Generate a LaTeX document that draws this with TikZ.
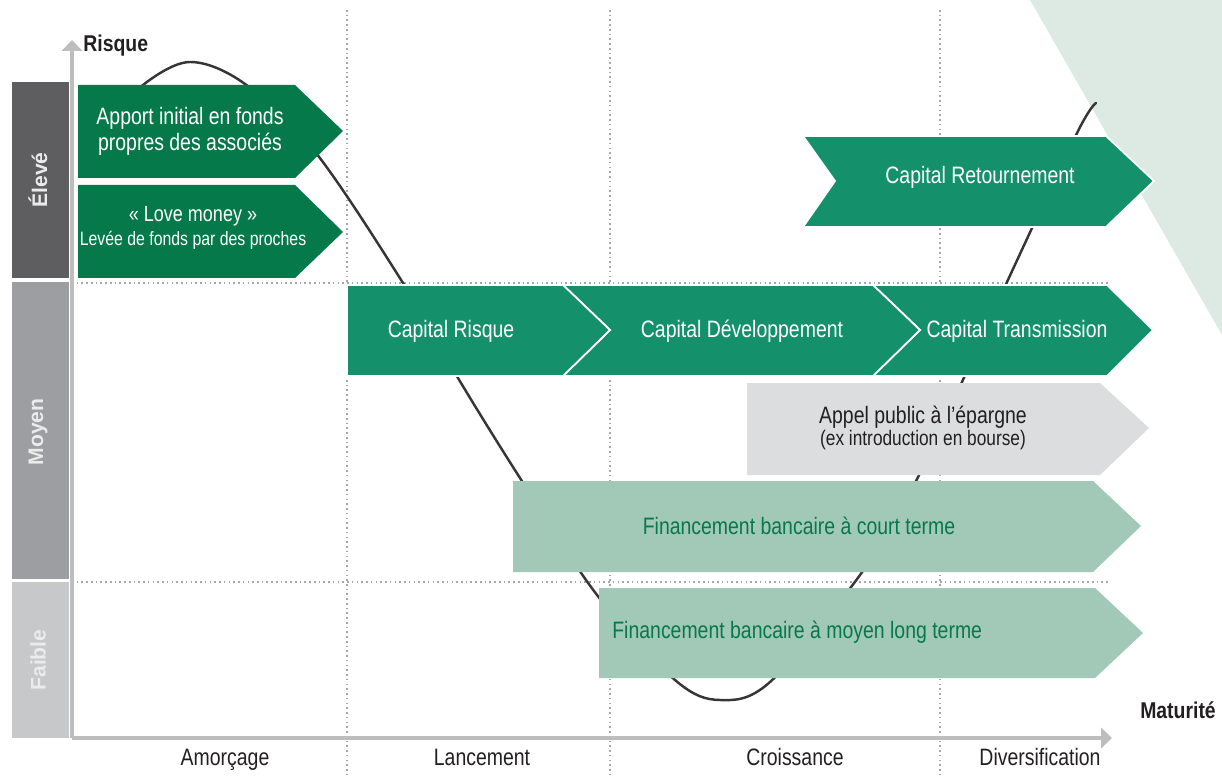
\documentclass[tikz,border=0pt]{standalone}
\usepackage{fontspec}
\setmainfont{Liberation Sans}[FakeStretch=0.82]
\newfontfamily\axisfont{Liberation Sans}[FakeStretch=0.85]
\newfontfamily\levelfont{Liberation Sans}
\usetikzlibrary{arrows.meta}

\definecolor{seedgreen}{HTML}{06794A}
\definecolor{capgreen}{HTML}{14916B}
\definecolor{bankgreen}{HTML}{A2C8B7}
\definecolor{publicgrey}{HTML}{DCDDDF}
\definecolor{wedgegreen}{HTML}{DCEAE3}
\definecolor{highgrey}{HTML}{5E5E60}
\definecolor{midgrey}{HTML}{9D9EA1}
\definecolor{lowgrey}{HTML}{C7C8CA}
\definecolor{axisgrey}{HTML}{BDBDBD}
\definecolor{inkgrey}{HTML}{231F20}

\tikzset{
  stage/.style={draw=white, line width=1pt},
  gridline/.style={gray!70, line width=1pt, dash pattern=on 0.9pt off 1.8pt},
  axisline/.style={axisgrey, line width=2pt, -{Triangle[length=6.2pt,width=11.5pt]}},
  wtext/.style={text=white, font=\fontsize{13.5}{14.8}\selectfont, align=center, inner sep=0pt},
  gtext/.style={text=seedgreen, font=\fontsize{13.5}{14.8}\selectfont, inner sep=0pt},
  level/.style={rotate=90, text=white!92!black, font=\levelfont\bfseries\fontsize{12}{12}\selectfont, inner sep=0pt},
  phase/.style={text=inkgrey, font=\fontsize{13.5}{14}\selectfont, inner sep=0pt, anchor=base},
  axislabel/.style={text=inkgrey, font=\axisfont\bfseries\fontsize{13}{13}\selectfont, inner sep=0pt}
}

\begin{document}
\begin{tikzpicture}[x=0.02cm, y=-0.02cm]
\useasboundingbox (0,0) rectangle (1222,776);

% light wedge on the right
\fill[wedgegreen] (1030,0) -- (1222,0) -- (1222,335) -- cycle;

% risk levels
\fill[highgrey] (12,82) rectangle (69,278);
\fill[midgrey] (12,282) rectangle (69,579);
\fill[lowgrey] (12,582) rectangle (69,738);
\node[level] (eleve) at (38,180) {Élevé};
\node[level] (moyen) at (38,432) {Moyen};
\node[level] (faible) at (38,660) {Faible};

% grid
\draw[gridline] (347,10) -- (347,776);
\draw[gridline] (610,10) -- (610,776);
\draw[gridline] (940,10) -- (940,776);
\draw[gridline] (72,283) -- (1110,283);
\draw[gridline] (72,582) -- (1110,582);

% risk curve
\draw[inkgrey!90, line width=1.4pt, line cap=round] plot[smooth, tension=0.55] coordinates {
  (118,118) (143,85) (190,62) (245,84) (316,153) (403,283) (458,378) (520,478)
  (597,595) (675,680) (720,700) (770,682) (860,575) (918,477) (1007,282)
  (1077,133) (1096,103)};

% own funds
\fill[seedgreen] (78,85) -- (295,85) -- (343,131) -- (295,178) -- (78,178) -- cycle;
\fill[seedgreen] (78,185) -- (295,185) -- (343,232) -- (295,278) -- (78,278) -- cycle;
\node[wtext] (apport) at (190,131) {Apport initial en fonds\\propres des associés};
\node[wtext] (love) at (193,228) {{\fontsize{12.5}{13}\selectfont «~Love money~»}\\[-1pt]{\fontsize{11}{12}\selectfont Levée de fonds par des proches}};

% equity stages
\filldraw[capgreen, stage] (803,136) -- (1106,136) -- (1154,181) -- (1106,227) -- (803,227) -- (835,181) -- cycle;
\node[wtext] (retour) at (980,177) {Capital Retournement};

\filldraw[capgreen, stage] (873,285) -- (1107,285) -- (1153,330) -- (1107,376) -- (873,376) -- (920,330) -- cycle;
\filldraw[capgreen, stage] (563,285) -- (873,285) -- (920,330) -- (873,376) -- (563,376) -- (610,330) -- cycle;
\filldraw[capgreen, stage] (347,285) -- (563,285) -- (610,330) -- (563,376) -- (347,376) -- cycle;
\node[wtext] (risque) at (451,331) {Capital Risque};
\node[wtext] (devel) at (742,331) {Capital Développement};
\node[wtext] (transm) at (1017,331) {Capital Transmission};

% public offering
\fill[publicgrey] (747,383) -- (1100,383) -- (1149,428) -- (1100,475) -- (747,475) -- cycle;
\node[wtext, text=inkgrey] (appel) at (923,428) {Appel public à l’épargne\\[-2pt]{\fontsize{12}{12}\selectfont (ex introduction en bourse)}};

% bank loans
\fill[bankgreen] (513,481) -- (1093,481) -- (1141,526) -- (1093,572) -- (513,572) -- cycle;
\node[gtext] (court) at (799,526) {Financement bancaire à court terme};
\fill[bankgreen] (599,588) -- (1095,588) -- (1143,633) -- (1095,678) -- (599,678) -- cycle;
\node[gtext, anchor=west] (long) at (612,632) {Financement bancaire à moyen long terme};

% axes
\coordinate (origin) at (72,738);
\coordinate (ytop) at (72,40);
\coordinate (xend) at (1112,738);
\draw[axisline] (origin) -- (ytop);
\draw[axisline] (origin) -- (xend);
\node[axislabel, anchor=west] (risk) at (83,46) {Risque};
\node[axislabel] (matur) at (1178,710) {Maturité};

% phases
\node[phase] (amorc) at (225,765) {Amorçage};
\node[phase] (lance) at (482,765) {Lancement};
\node[phase] (crois) at (795,765) {Croissance};
\node[phase] (diver) at (1040,765) {Diversification};
\end{tikzpicture}
\end{document}
